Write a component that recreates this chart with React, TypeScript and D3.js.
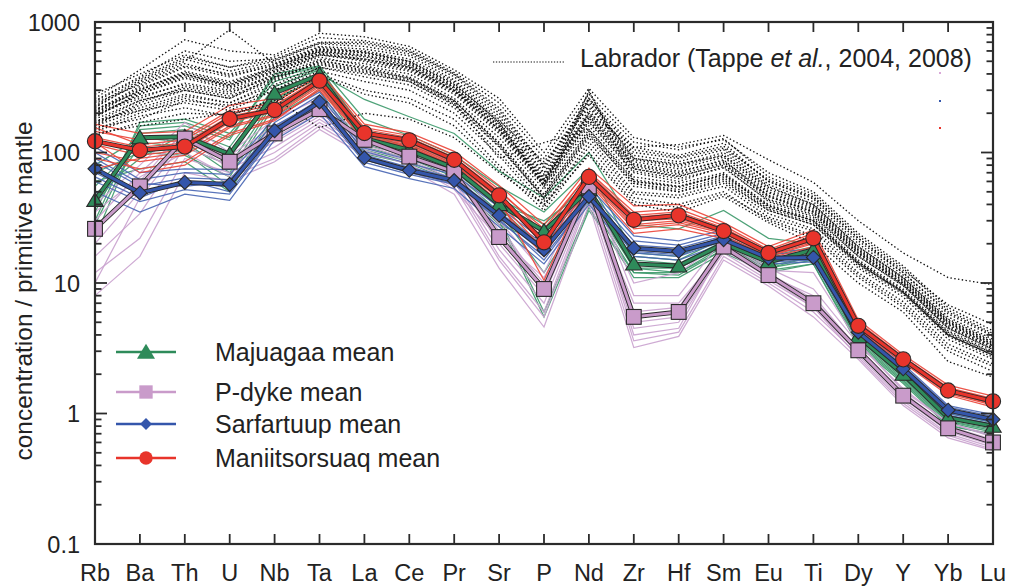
import React, { useEffect } from "react";
import * as d3 from "d3";

const elements = ["Rb","Ba","Th","U","Nb","Ta","La","Ce","Pr","Sr","P","Nd","Zr","Hf","Sm","Eu","Ti","Dy","Y","Yb","Lu"];

const yTickValues = [0.1, 1, 10, 100, 1000];
const yTickLabels = ["0.1", "1", "10", "100", "1000"];

const legendLabels = ["Majuagaa mean", "P-dyke mean", "Sarfartuup mean", "Maniitsorsuaq mean"];
const labradorLabel = ["Labrador (Tappe ", "et al.", ", 2004, 2008)"];

const majuagaaMean = [43,130,132,97,285,395,128,104,76,40,25,52,14,13.5,20,14.5,18,3.9,2.0,0.93,0.8];
const pdykeMean = [26,55,128,85,140,215,125,93,71,22.5,9,55,5.5,6,19,11.5,7,3.05,1.37,0.77,0.6];
const sarfartuupMean = [75,49,59,57,147,244,91,73,61,33,18,46,18.5,17.5,21.5,15.5,15.7,4.2,2.2,1.06,0.9];
const maniitsorsuaqMean = [122,104,111,181,212,355,141,124,88,47,20.5,65,30.5,33,25,17,22,4.7,2.6,1.5,1.24];

const majuagaaSamples = [
  [28,140,150,110,320,430,150,115,82,45,28,60,16,15,22,15,18,4.0,2.0,0.95,0.8],
  [35,160,170,130,380,450,140,110,78,42,22,55,14,13,20,14,17,3.8,1.9,0.9,0.78],
  [55,120,110,80,260,370,120,100,72,38,18,48,13,12,19,13.5,16,3.7,1.9,0.88,0.76],
  [70,100,95,65,230,350,115,95,70,35,12,42,12,11.5,18,13,15,3.5,1.8,0.85,0.72],
  [22,150,160,125,400,460,180,135,95,55,35,75,17,16,23,16,19,4.2,2.1,1.0,0.85],
  [48,90,140,100,300,400,255,188,140,72,45,100,28,26,36,22,20,4.4,2.2,1.05,0.9],
  [80,130,120,70,250,380,110,90,65,32,6,38,11,11,17,12,14,3.3,1.7,0.8,0.7],
  [40,110,100,55,200,330,105,85,62,30,5.5,36,12,12,18,12.5,14,3.4,1.75,0.82,0.68],
  [30,170,180,140,350,440,135,108,80,40,30,52,15,14,21,15,18,4.1,2.05,0.95,0.82],
  [60,75,85,50,190,300,98,82,60,28,20,45,13,13,19,13,16,3.6,1.85,0.87,0.74],
];

const pdykeSamples = [
  [8,16,70,60,85,150,95,75,48,13,4.6,40,3.2,3.9,15,9.5,5.5,2.6,1.15,0.65,0.52],
  [12,22,90,70,100,170,105,80,55,15,5.5,45,3.6,4.2,16,10,6,2.8,1.25,0.7,0.55],
  [16,34,110,80,120,190,115,88,62,18,7,50,4.5,5,18,11,6.5,2.9,1.3,0.73,0.57],
  [25,60,150,95,160,240,135,100,78,25,10,58,6,6.5,20,12,7.5,3.2,1.45,0.8,0.63],
  [40,80,170,100,180,260,150,110,85,30,12,62,8,8,22,13,9,3.4,1.55,0.85,0.66],
  [30,70,140,90,150,220,130,95,74,28,9,56,10,12,21,12.5,12,3.5,1.5,0.85,0.68],
  [10,45,120,85,130,200,120,90,68,20,8,52,4,4.5,19,11,7,3.0,1.35,0.75,0.58],
  [20,50,130,75,110,180,110,85,60,16,6,48,5,5.5,17,10.5,6.5,2.7,1.2,0.68,0.53],
  [35,65,100,65,90,160,100,82,52,22,11,47,7,7,18,11.5,8,3.1,1.4,0.78,0.6],
];

const sarfartuupSamples = [
  [50,35,48,43,125,200,78,63,53,27,14,40,16,15,20,14,14.5,3.9,2.05,0.97,0.83],
  [60,42,52,48,135,220,84,68,57,30,16,43,17,16,21,14.5,15,4.0,2.1,1.0,0.86],
  [70,48,58,55,145,240,90,72,61,32,17,46,18,17,22,15.5,15.5,4.15,2.18,1.04,0.89],
  [85,55,64,62,155,255,96,77,64,35,19,48,19.5,18.5,23,16,16.2,4.3,2.25,1.08,0.92],
  [100,62,70,68,170,275,102,82,68,38,21,51,21,19.5,24,16.8,17,4.45,2.32,1.12,0.95],
  [110,70,75,74,185,290,108,88,72,41,24,55,23,21,25.5,17.5,18,4.6,2.4,1.15,0.98],
  [65,45,62,50,140,230,88,70,58,31,15,44,17.5,16.5,21.5,15,15.2,4.1,2.15,1.02,0.87],
  [90,58,55,60,160,250,94,75,63,34,20,47,18.5,17.5,22.5,15.8,16,4.25,2.2,1.06,0.9],
];

const maniitsorsuaqSamples = [
  [90,75,85,140,180,300,125,110,78,40,16,58,24,26,22,15.5,19,4.3,2.45,1.38,1.12],
  [100,85,95,155,190,320,130,115,82,42,18,60,26,28,23,16,20,4.45,2.5,1.42,1.16],
  [115,95,105,170,205,340,137,120,86,45,19.5,63,28,30,24.5,16.5,21,4.6,2.55,1.47,1.2],
  [130,110,118,190,220,365,145,128,90,48,21,67,32,34,26,17.3,22.5,4.8,2.63,1.52,1.26],
  [145,125,130,210,240,390,155,135,96,52,24,71,35,37,27.5,18,24,5.0,2.72,1.58,1.3],
  [165,140,145,230,260,415,165,142,102,56,28,76,39,40,29,19,25.5,5.2,2.82,1.65,1.36],
  [75,90,100,160,195,330,133,118,84,44,10.5,62,27,29,24,16.2,20.5,4.5,2.52,1.45,1.18],
  [120,70,80,135,175,310,128,112,80,46,22,64,30,31,25,16.8,21.5,4.7,2.6,1.5,1.22],
  [155,115,125,200,230,370,150,130,92,50,26,69,33,35,26.5,17.6,23,4.9,2.68,1.55,1.28],
];

const labradorSamples = [
  [180,250,300,260,380,520,480,420,280,140,55,170,70,60,78,42,32,16,9.5,4.5,3.1],
  [200,300,420,350,450,600,560,480,320,160,60,190,80,70,88,46,35,17,10,4.8,3.3],
  [150,200,260,220,320,450,400,350,230,110,45,140,55,50,62,36,28,14,8.5,4.0,2.8],
  [250,380,600,500,520,700,700,600,400,220,80,260,110,95,118,60,45,22,12,6,4],
  [220,350,500,870,480,650,620,550,360,190,70,230,90,80,100,55,40,19,11,5.3,3.6],
  [170,220,280,240,350,500,450,380,250,120,48,150,60,55,68,38,30,14.5,8.8,4.1,2.9],
  [260,430,730,600,560,820,770,650,430,260,100,310,130,110,125,70,50,24,13.5,6.5,4.3],
  [140,160,180,200,250,400,300,260,180,80,40,110,45,40,50,30,22,11,6.5,3.0,2.1],
  [190,280,380,320,420,580,520,450,300,150,58,180,75,65,82,44,34,16.5,9.8,4.6,3.2],
  [210,320,450,380,470,640,590,500,340,170,65,200,85,75,92,50,38,18,10.5,5,3.4],
  [160,240,320,280,400,540,460,400,260,130,52,160,65,58,70,40,31,15,9,4.3,3.0],
  [230,360,520,420,500,680,650,570,380,200,75,240,95,85,105,57,42,20,11.5,5.5,3.7],
  [175,210,240,210,300,420,350,300,200,95,38,120,48,45,55,32,25,12,7.2,3.4,2.4],
  [200,270,330,290,380,480,420,360,240,90,119,150,62,55,66,39,30,14.5,8.6,4.2,2.9],
  [280,400,560,450,540,760,720,620,410,240,90,280,120,105,128,65,48,23,13,6.2,4.1],
  [145,190,220,190,260,155,200,180,130,70,40,95,40,35,46,29,20,10,6,2.5,1.9],
  [195,260,340,300,390,560,500,430,290,145,56,175,72,63,76,43,33,16,9.6,4.5,3.1],
  [240,330,460,400,480,620,600,520,350,180,68,210,88,78,96,52,39,18.5,10.8,5.1,3.5],
  [165,230,300,260,360,510,440,370,245,118,47,145,58,52,64,37,29,14,8.4,4.0,2.8],
  [185,290,390,330,430,590,540,460,310,155,62,185,78,68,84,47,36,17.5,10.2,4.9,3.3],
  [155,180,250,230,300,450,380,330,220,100,42,130,50,47,58,34,26,13,7.8,3.7,2.6],
  [210,310,400,320,420,560,520,450,300,160,60,200,110,115,135,88,59,30,17,11,9.7],
  [225,340,480,390,460,610,580,490,330,175,85,220,100,90,108,62,46,22,12.5,6.8,4.8],
  [135,170,200,195,240,390,280,240,160,75,36,100,42,38,48,31,23,11.5,6.8,3.2,2.3],
  [205,300,410,340,440,600,550,470,315,165,63,195,82,72,86,49,37,17.8,10.4,5.0,3.4],
  [245,370,540,450,510,690,680,590,395,210,78,250,105,92,112,60,44,21,12,5.8,3.9],
  [170,250,310,270,370,490,430,370,250,115,45,135,58,50,60,36,28,13.5,8.2,3.9,2.7],
  [190,280,370,310,410,570,510,440,295,150,58,290,75,66,80,46,35,17,9.8,4.7,3.2],
  [215,290,400,330,450,620,580,500,330,170,55,260,90,82,94,54,40,19,11,5.2,3.5],
  [160,210,270,240,330,470,410,350,235,112,44,300,60,54,68,39,30,14.2,8.5,4.0,2.8],
];

const FONT = "'Liberation Sans', Arial, Helvetica, sans-serif";
const AXIS = "#2b2b2b";

type Group = {
  mean: number[];
  samples: number[][];
  thin: string;
  fill: string;
  marker: string;
  label: string;
};

export default function App() {
  useEffect(() => {
    document.body.style.margin = "0";
  }, []);

  const W = 1010, H = 586;
  const left = 95, right = 993, top = 22, bottom = 544;

  const x = d3.scalePoint<string>().domain(elements).range([left, right]).padding(0);
  const y = d3.scaleLog().domain([0.1, 1000]).range([bottom, top]);
  const line = d3.line<number>().x((_, i) => x(elements[i]) as number).y((d) => y(d));

  const groups: Group[] = [
    { mean: majuagaaMean, samples: majuagaaSamples, thin: "#3f9a6c", fill: "#2e8b5a", marker: "triangle", label: legendLabels[0] },
    { mean: pdykeMean, samples: pdykeSamples, thin: "#caa3cf", fill: "#c99bca", marker: "square", label: legendLabels[1] },
    { mean: sarfartuupMean, samples: sarfartuupSamples, thin: "#4a67b4", fill: "#3456ab", marker: "diamond", label: legendLabels[2] },
    { mean: maniitsorsuaqMean, samples: maniitsorsuaqSamples, thin: "#ec463b", fill: "#e8342b", marker: "circle", label: legendLabels[3] },
  ];

  const markerShape = (kind: string, cx: number, cy: number, fill: string, stroke: string | null, scale = 1, key?: string) => {
    const sw = stroke ? 1.1 : 0;
    const st = stroke ?? "none";
    if (kind === "circle") {
      return <circle key={key} cx={cx} cy={cy} r={7.6 * scale} fill={fill} stroke={st} strokeWidth={sw} />;
    }
    if (kind === "square") {
      const s = 14.8 * scale;
      return <rect key={key} x={cx - s / 2} y={cy - s / 2} width={s} height={s} fill={fill} stroke={st} strokeWidth={sw} />;
    }
    if (kind === "diamond") {
      const r = 7 * scale;
      return <path key={key} d={`M${cx},${cy - r}L${cx + r},${cy}L${cx},${cy + r}L${cx - r},${cy}Z`} fill={fill} stroke={st} strokeWidth={sw} />;
    }
    const w = 8.2 * scale, h = 13.5 * scale;
    return <path key={key} d={`M${cx},${cy - h * 0.55}L${cx + w},${cy + h * 0.45}L${cx - w},${cy + h * 0.45}Z`} fill={fill} stroke={st} strokeWidth={sw} />;
  };

  const yTicksAll: { v: number; major: boolean }[] = [];
  for (const d of [0.1, 1, 10, 100]) {
    for (let m = 1; m <= 9; m++) yTicksAll.push({ v: d * m, major: m === 1 });
  }
  yTicksAll.push({ v: 1000, major: true });

  const legendY = [352, 392, 424, 458];

  return (
    <div style={{ position: "absolute", left: 0, top: 0, width: W, height: H, background: "#fff" }}>
      <svg width={W} height={H} style={{ display: "block" }} fontFamily={FONT}>
        <rect x={0} y={0} width={W} height={H} fill="#fff" />

        {groups.map((g, gi) => (
          <g key={"thin" + gi} fill="none" stroke={g.thin} strokeWidth={1.25} strokeOpacity={0.92}>
            {g.samples.map((s, i) => <path key={i} d={line(s) ?? ""} />)}
          </g>
        ))}

        <g fill="none" stroke="#111" strokeWidth={1.35} strokeDasharray="1.4 2.4">
          {labradorSamples.map((s, i) => <path key={i} d={line(s) ?? ""} />)}
        </g>

        {groups.map((g, gi) => (
          <g key={"mean" + gi}>
            <path d={line(g.mean) ?? ""} fill="none" stroke="#2a2a2a" strokeWidth={4.8} strokeLinejoin="round" />
            <path d={line(g.mean) ?? ""} fill="none" stroke={g.fill} strokeWidth={3} strokeLinejoin="round" />
            {g.mean.map((v, i) => markerShape(g.marker, x(elements[i]) as number, y(v), g.fill, "#2a2a2a", 1, "m" + i))}
          </g>
        ))}

        <rect x={left} y={top} width={right - left} height={bottom - top} fill="none" stroke={AXIS} strokeWidth={2.2} />
        {yTicksAll.map((t, i) => {
          const yy = y(t.v);
          const len = t.major ? 12 : 6.5;
          return (
            <g key={"yt" + i} stroke={AXIS} strokeWidth={1.8}>
              <line x1={left} x2={left + len} y1={yy} y2={yy} />
              <line x1={right} x2={right - len} y1={yy} y2={yy} />
            </g>
          );
        })}
        {elements.map((e, i) => {
          const xx = x(e) as number;
          return (
            <g key={"xt" + i} stroke={AXIS} strokeWidth={1.8}>
              <line x1={xx} x2={xx} y1={top} y2={top + 10} />
              <line x1={xx} x2={xx} y1={bottom} y2={bottom - 10} />
            </g>
          );
        })}

        {yTickValues.map((v, i) => (
          <text key={"yl" + i} x={80} y={y(v) + 8.5} textAnchor="end" fontSize={23.5} fill="#222">
            {yTickLabels[i]}
          </text>
        ))}
        {elements.map((e, i) => (
          <text key={"xl" + i} x={x(e) as number} y={581} textAnchor="middle" fontSize={23.5} fill="#222">
            {e}
          </text>
        ))}

        <text transform={`translate(32,${291}) rotate(-90)`} textAnchor="middle" fontSize={24.5} fill="#222">
          concentration / primitive mantle
        </text>

        <line x1={493} x2={564} y1={62} y2={62} stroke="#111" strokeWidth={1.2} strokeDasharray="1.3 1.6" />
        <text x={580} y={67} fontSize={25} fill="#222">
          {labradorLabel[0]}
          <tspan fontStyle="italic">{labradorLabel[1]}</tspan>
          {labradorLabel[2]}
        </text>
        <rect x={939} y={72} width={2} height={2} fill="#d9a8d8" />
        <rect x={939} y={100} width={2} height={2} fill="#3456ab" />
        <rect x={939} y={127} width={2} height={2} fill="#e8342b" />

        {groups.map((g, gi) => (
          <g key={"lg" + gi}>
            <line x1={116} x2={176} y1={legendY[gi]} y2={legendY[gi]} stroke={g.fill} strokeWidth={2.6} />
            {markerShape(g.marker, 146, legendY[gi], g.fill, null, gi === 0 ? 1.1 : gi === 2 ? 0.85 : gi === 3 ? 0.88 : 0.9)}
            <text x={215} y={legendY[gi] + 9} fontSize={25} fill="#222">{g.label}</text>
          </g>
        ))}
      </svg>
    </div>
  );
}
